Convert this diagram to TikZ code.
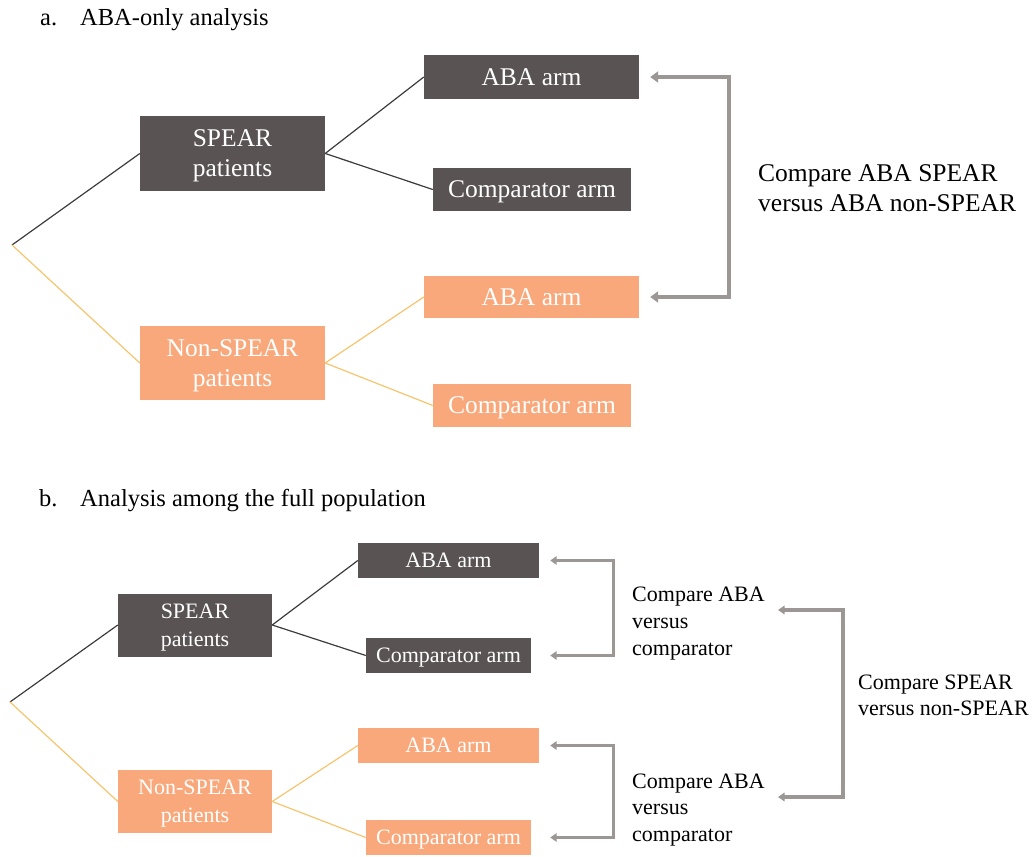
\documentclass[tikz,border=0pt]{standalone}
\usepackage{fontspec}
\setmainfont{LiberationSerif}[Extension=.ttf, UprightFont=*-Regular, BoldFont=*-Bold]
\usetikzlibrary{arrows.meta}
\definecolor{boxdark}{HTML}{595354}
\definecolor{boxorange}{HTML}{F8A87B}
\definecolor{lineorange}{HTML}{F7C46E}
\definecolor{linedark}{HTML}{3C3C3C}
\definecolor{arrowgray}{HTML}{9C9694}
\newcommand\stk[1]{\begin{tabular}[t]{@{}l@{}}#1\end{tabular}}
\begin{document}
\begin{tikzpicture}[x=1pt,y=-1pt,
  box/.style={rectangle, inner sep=0pt, text=white, align=center},
  darkbox/.style={box, fill=boxdark},
  orbox/.style={box, fill=boxorange},
  fa/.style={font=\fontsize{25.5}{30}\selectfont},
  fb/.style={font=\fontsize{22}{26.7}\selectfont},
  fbb/.style={font=\fontsize{22}{28.3}\selectfont},
  onea/.style={text height=16.9pt, text depth=0pt},
  oneb/.style={text height=14.6pt, text depth=0pt},
  twoa/.style={text height=46.9pt, text depth=0pt},
  twob/.style={text height=42.9pt, text depth=0pt},
  dline/.style={draw=linedark, line width=1.2pt},
  oline/.style={draw=lineorange, line width=1.2pt},
  garrowa/.style={draw=arrowgray, line width=4pt,
    {Triangle[length=8pt,width=11pt]}-{Triangle[length=8pt,width=11pt]}},
  garrowb/.style={draw=arrowgray, line width=3.2pt,
    {Triangle[length=6.5pt,width=8.5pt]}-{Triangle[length=6.5pt,width=8.5pt]}},
  lbl/.style={anchor=base west, inner sep=0pt, text=black},
  title/.style={lbl, font=\fontsize{24.5}{29}\selectfont}
]
\useasboundingbox (0,0) rectangle (1032,856);

% ---------- part a ----------
\node[title] (ttla) at (40,26) {\makebox[40pt][l]{a.}ABA-only analysis};
\coordinate (ra) at (12,245);
\node[darkbox, fa, twoa, minimum width=185pt, minimum height=75pt] (aS) at (232.5,153.5) {SPEAR\\patients};
\node[orbox, fa, twoa, minimum width=185pt, minimum height=74pt] (aN) at (232.5,363) {Non-SPEAR\\patients};
\node[darkbox, fa, onea, minimum width=215pt, minimum height=44pt] (aA1) at (531.5,77) {ABA arm};
\node[darkbox, fa, onea, minimum width=198pt, minimum height=43pt] (aC1) at (532,189.5) {Comparator arm};
\node[orbox, fa, onea, minimum width=215pt, minimum height=42pt] (aA2) at (531.5,297) {ABA arm};
\node[orbox, fa, onea, minimum width=198pt, minimum height=43pt] (aC2) at (532,405.5) {Comparator arm};

\draw[dline] (ra) -- (aS.west);
\draw[oline] (ra) -- (aN.west);
\draw[dline] (aS.east) -- (aA1.west);
\draw[dline] (aS.east) -- (aC1.west);
\draw[oline] (aN.east) -- (aA2.west);
\draw[oline] (aN.east) -- (aC2.west);

\draw[garrowa] ([xshift=11pt]aA1.east) -- ++(79,0) |- ([xshift=11pt]aA2.east);
\node[lbl, fa] (cmpa) at (758,181.7) {\stk{Compare ABA SPEAR\\versus ABA non-SPEAR}};

% ---------- part b ----------
\node[title] (ttlb) at (39,506) {\makebox[41pt][l]{b.}Analysis among the full population};
\coordinate (rb) at (10,702);
\node[darkbox, fbb, twob, minimum width=154pt, minimum height=63pt] (bS) at (195,625) {SPEAR\\patients};
\node[orbox, fbb, twob, minimum width=154pt, minimum height=63pt] (bN) at (195,801.5) {Non-SPEAR\\patients};
\node[darkbox, fb, oneb, minimum width=181pt, minimum height=35pt] (bA1) at (448.5,560.5) {ABA arm};
\node[darkbox, fb, oneb, minimum width=165pt, minimum height=35pt] (bC1) at (448.5,655.5) {Comparator arm};
\node[orbox, fb, oneb, minimum width=181pt, minimum height=35pt] (bA2) at (448.5,745.5) {ABA arm};
\node[orbox, fb, oneb, minimum width=165pt, minimum height=35pt] (bC2) at (448.5,837.5) {Comparator arm};

\draw[dline] (rb) -- (bS.west);
\draw[oline] (rb) -- (bN.west);
\draw[dline] (bS.east) -- (bA1.west);
\draw[dline] (bS.east) -- (bC1.west);
\draw[oline] (bN.east) -- (bA2.west);
\draw[oline] (bN.east) -- (bC2.west);

\draw[garrowb] ([xshift=11pt]bA1.east) -- ++(63,0) |- ([xshift=19pt]bC1.east);
\draw[garrowb] ([xshift=11pt]bA2.east) -- ++(63,0) |- ([xshift=19pt]bC2.east);

\node[lbl, fb] (cmpb1) at (632,601.7) {\stk{Compare ABA\\versus\\comparator}};
\node[lbl, fb] (cmpb2) at (632,788) {\stk{Compare ABA\\versus\\comparator}};

\coordinate (tb1) at (778,610);
\coordinate (tb2) at (778,797);
\draw[garrowb] (tb1) -- ++(65,0) |- (tb2);
\node[lbl, fb] (cmpb3) at (858,689) {\stk{Compare SPEAR\\versus non-SPEAR}};
\end{tikzpicture}
\end{document}
